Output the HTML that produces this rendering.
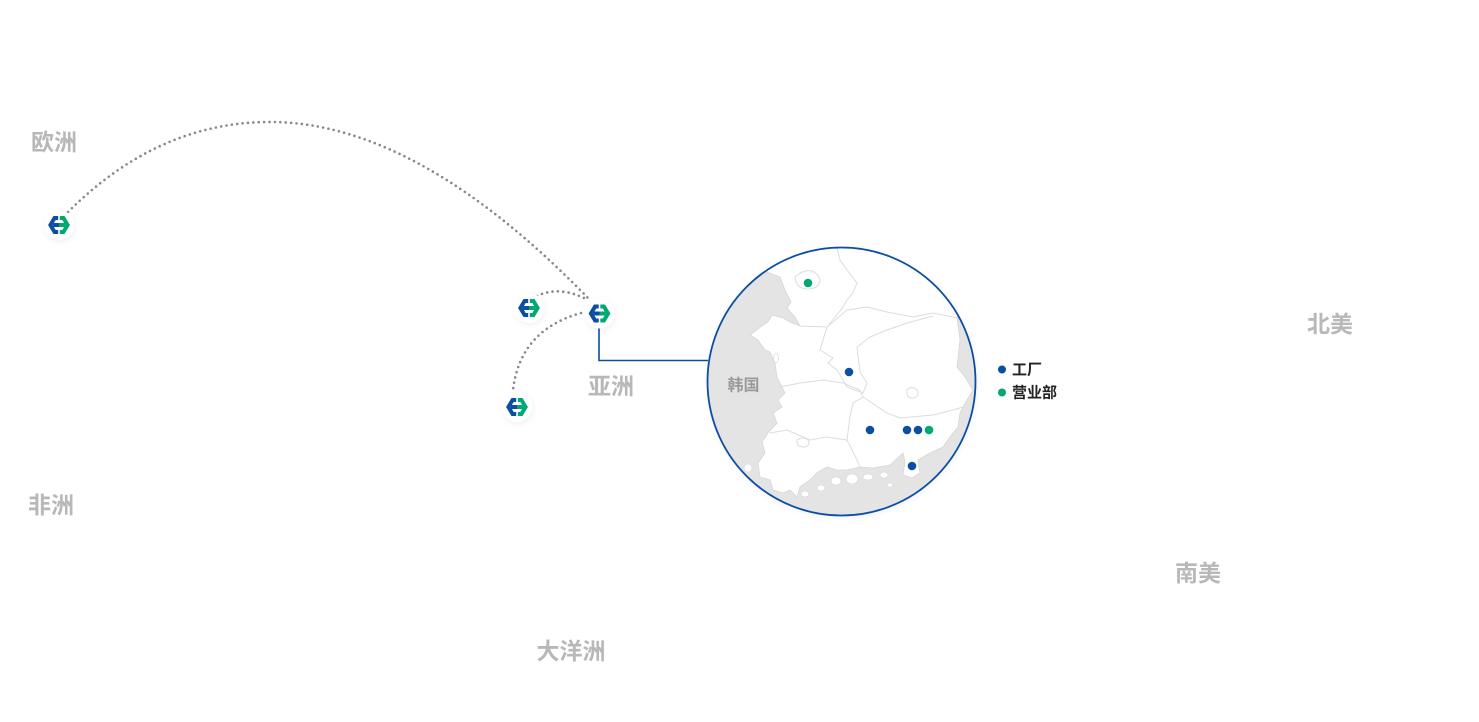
<!DOCTYPE html>
<html><head><meta charset="utf-8"><style>
html,body{margin:0;padding:0;background:#fff;}
body{width:1479px;height:722px;overflow:hidden;}
svg{display:block;}
text{font-family:"Liberation Sans","Noto Sans CJK SC",sans-serif;font-weight:bold;}
</style></head><body>
<svg width="1479" height="722" viewBox="0 0 1479 722" xmlns="http://www.w3.org/2000/svg">
<defs>
<clipPath id="cc"><circle cx="841.5" cy="381.5" r="134"/></clipPath>
<filter id="sh" x="-30%" y="-30%" width="160%" height="160%">
<feDropShadow dx="1" dy="2" stdDeviation="3" flood-color="#000" flood-opacity="0.06"/>
</filter>
<g id="ic">
<circle cx="0" cy="0" r="15" fill="#fff" filter="url(#sh)"/>
<g stroke-width="4" fill="none" stroke-linejoin="miter">
<path d="M-0.8,-7 L-4.4,-7 L-8.6,0 L-4.4,7 L-0.8,7 M-6,0 L0,0" stroke="#0b4ea2"/>
<path d="M0.8,-7 L4.4,-7 L8.6,0 L4.4,7 L0.8,7 M6,0 L0,0" stroke="#00a874"/>
</g>
</g>
</defs>

<!-- continent labels -->
<g fill="#b8b8b8" font-size="23" text-anchor="middle" dominant-baseline="central">
<text x="54" y="142">欧洲</text>
<text x="611" y="386">亚洲</text>
<text x="51" y="505">非洲</text>
<text x="1330" y="324">北美</text>
<text x="1198" y="573">南美</text>
<text x="571" y="651">大洋洲</text>
</g>

<!-- dotted arcs -->
<g fill="none" stroke="#888" stroke-width="2.6" stroke-linecap="round" stroke-dasharray="0 5.4">
<path d="M68,212 Q160,120 275,122 Q420,125 588,298"/>
<path d="M537,296 Q560,285 588,300"/>
<path d="M581,313 Q520,330 513,390"/>
</g>

<!-- connector -->
<polyline points="599,328 599,360.5 708,360.5" fill="none" stroke="#0b4ea2" stroke-width="1.6"/>

<!-- icons -->
<use href="#ic" x="59" y="225"/>
<use href="#ic" x="529" y="308"/>
<use href="#ic" x="599.5" y="313.5"/>
<use href="#ic" x="517" y="407"/>

<!-- map circle -->
<circle cx="841.5" cy="381.5" r="134" fill="#fff" filter="url(#sh)"/>
<g clip-path="url(#cc)">
<rect x="700" y="240" width="290" height="290" fill="#e4e4e4"/>
<polygon fill="#fff" stroke="#d6d6d6" stroke-width="0.8" points="760,240 767,272 780,277 785,290 791,302 787,308 795,317 800,326 790,322 783,318 772,315 768,322 763,325 750,335 758,340 765,350 770,352 775,363 777,377 782,387 785,393 778,400 782,407 773,413 777,423 768,433 762,442 765,453 758,463 760,477 770,480 773,490 783,493 790,490 797,497 800,487 810,480 818,472 827,467 837,470 847,470 860,467 873,468 890,465 903,453 905,462 903,475 912,478 920,473 918,460 930,453 943,447 950,437 958,427 960,413 967,400 973,390 965,377 957,367 960,340 957,318 960,300 990,240"/>
<!-- islands -->
<g fill="#fff" stroke="#d6d6d6" stroke-width="0.6">
<ellipse cx="836" cy="481" rx="5" ry="4"/>
<ellipse cx="852" cy="479" rx="6" ry="5"/>
<ellipse cx="821" cy="488" rx="4" ry="3"/>
<ellipse cx="868" cy="477" rx="5" ry="3"/>
<ellipse cx="884" cy="475" rx="4" ry="3"/>
<ellipse cx="805" cy="494" rx="4" ry="3"/>
<ellipse cx="748" cy="468" rx="4" ry="4"/>
<ellipse cx="767" cy="496" rx="4" ry="3"/>
<ellipse cx="890" cy="485" rx="3" ry="2"/>
<ellipse cx="776" cy="358" rx="2.5" ry="5"/>
</g>
<!-- borders -->
<g fill="none" stroke="#dcdcdc" stroke-width="1">
<polyline points="837,248 840,260 847,270 857,283 853,293 847,300 843,307 827,327"/>
<polyline points="800,326 827,327 847,310 867,307 887,312 913,317 933,313 957,318"/>
<polyline points="827,327 823,340 820,350 833,358 828,363 837,370 843,380 847,387 863,393 867,383 860,372 857,347 870,337 887,330 907,323 933,316"/>
<polyline points="780,387 800,383 823,380 843,383 860,390 863,397 853,403 850,417 847,440 857,460 860,467"/>
<polyline points="863,397 887,413 900,418 933,415 953,410 963,407"/>
<polyline points="770,433 787,430 810,440 827,437 847,440"/>
<path d="M907,390 q5,-5 10,0 q3,6 -3,8 q-8,1 -7,-8z"/>
<path d="M797,440 q6,-4 11,0 q3,6 -4,7 q-8,0 -7,-7z"/>
<path d="M795,277 q8,-8 17,-6 q8,4 8,10 q-2,8 -12,8 q-12,0 -13,-12z"/>
</g>
<!-- dots -->
<g>
<circle cx="808" cy="283" r="4.3" fill="#00a874"/>
<circle cx="849" cy="372" r="4.3" fill="#0b4ea2"/>
<circle cx="870" cy="430" r="4.3" fill="#0b4ea2"/>
<circle cx="907" cy="430" r="4.3" fill="#0b4ea2"/>
<circle cx="918" cy="430" r="4.3" fill="#0b4ea2"/>
<circle cx="929" cy="430" r="4.3" fill="#00a874"/>
<circle cx="912" cy="466" r="4.3" fill="#0b4ea2"/>
</g>
</g>
<circle cx="841.5" cy="381.5" r="134" fill="none" stroke="#0b4ea2" stroke-width="1.8"/>
<text x="743.5" y="386" fill="#9a9a9a" font-size="16" text-anchor="middle" dominant-baseline="central">韩国</text>

<!-- legend -->
<circle cx="1002" cy="369.5" r="4" fill="#0b4ea2"/>
<circle cx="1002" cy="392.5" r="4" fill="#00a874"/>
<g fill="#222" font-size="15" dominant-baseline="central">
<text x="1012" y="370">工厂</text>
<text x="1012" y="393">营业部</text>
</g>
</svg>
</body></html>
